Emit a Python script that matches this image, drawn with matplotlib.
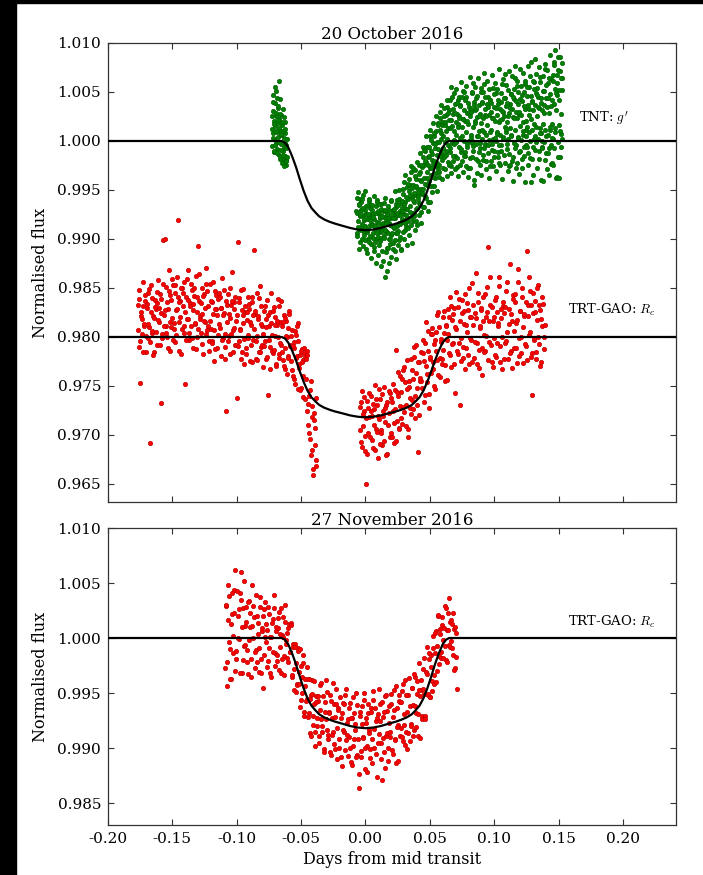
import matplotlib
matplotlib.use("Agg")
import matplotlib.pyplot as plt
from matplotlib.patches import Rectangle

plt.rcParams['font.family'] = ['DejaVu Serif']
plt.rcParams['mathtext.fontset'] = 'cm'
plt.rcParams['axes.unicode_minus'] = False

# ---- 20 October 2016, TNT g' (green) ----
tnt_pre_t = [-0.0728, -0.0725, -0.0722, -0.0719, -0.0716, -0.0713, -0.0710, -0.0707, -0.0704, -0.0701,
             -0.0698, -0.0695, -0.0692, -0.0689, -0.0686, -0.0683, -0.0680, -0.0677, -0.0674, -0.0671,
             -0.0668, -0.0665, -0.0662, -0.0659, -0.0656, -0.0653, -0.0650, -0.0647, -0.0644, -0.0641,
             -0.0638, -0.0635, -0.0632, -0.0629, -0.0626, -0.0623, -0.0620, -0.0617, -0.0614, -0.0611,
             -0.0726, -0.0722, -0.0718, -0.0714, -0.0710, -0.0706, -0.0702, -0.0698, -0.0694, -0.0690,
             -0.0686, -0.0682, -0.0678, -0.0674, -0.0670, -0.0666, -0.0662, -0.0658, -0.0654, -0.0650,
             -0.0646, -0.0642, -0.0638, -0.0634, -0.0630, -0.0626, -0.0622, -0.0618, -0.0614, -0.0610]
tnt_pre_f = [1.0012, 0.9995, 1.0031, 1.0008, 1.0047, 0.9989, 1.0020, 1.0002, 1.0039, 1.0015,
             0.9998, 1.0026, 1.0051, 1.0009, 0.9992, 1.0034, 1.0018, 1.0004, 1.0061, 1.0022,
             0.9986, 1.0011, 1.0043, 0.9997, 1.0027, 1.0006, 0.9983, 1.0016, 0.9990, 1.0033,
             0.9979, 1.0003, 0.9994, 1.0019, 0.9985, 1.0008, 0.9976, 0.9996, 0.9981, 1.0002,
             1.0025, 1.0003, 1.0040, 0.9990, 1.0017, 1.0055, 0.9996, 1.0029, 1.0010, 1.0044,
             0.9988, 1.0021, 1.0036, 0.9999, 1.0013, 0.9982, 1.0028, 1.0007, 0.9991, 1.0019,
             0.9978, 1.0010, 0.9986, 1.0024, 0.9974, 0.9998, 1.0012, 0.9980, 0.9993, 0.9984]

tnt_t = [-0.0070, -0.0066, -0.0062, -0.0058, -0.0054, -0.0050, -0.0046, -0.0042, -0.0038, -0.0034,
         -0.0030, -0.0026, -0.0022, -0.0018, -0.0014, -0.0010, -0.0006, -0.0002, 0.0002, 0.0006,
         0.0010, 0.0014, 0.0018, 0.0022, 0.0026, 0.0030, 0.0034, 0.0038, 0.0042, 0.0046,
         0.0050, 0.0054, 0.0058, 0.0062, 0.0066, 0.0070, 0.0074, 0.0078, 0.0082, 0.0086,
         0.0090, 0.0094, 0.0098, 0.0102, 0.0106, 0.0110, 0.0114, 0.0118, 0.0122, 0.0126,
         0.0130, 0.0134, 0.0138, 0.0142, 0.0146, 0.0150, 0.0154, 0.0158, 0.0162, 0.0166,
         0.0170, 0.0174, 0.0178, 0.0182, 0.0186, 0.0190, 0.0194, 0.0198, 0.0202, 0.0206,
         0.0210, 0.0214, 0.0218, 0.0222, 0.0226, 0.0230, 0.0234, 0.0238, 0.0242, 0.0246,
         0.0250, 0.0254, 0.0258, 0.0262, 0.0266, 0.0270, 0.0274, 0.0278, 0.0282, 0.0286,
         0.0290, 0.0294, 0.0298, 0.0302, 0.0306, 0.0310, 0.0314, 0.0318, 0.0322, 0.0326,
         0.0330, 0.0334, 0.0338, 0.0342, 0.0346, 0.0350, 0.0354, 0.0358, 0.0362, 0.0366,
         0.0370, 0.0374, 0.0378, 0.0382, 0.0386, 0.0390, 0.0394, 0.0398, 0.0402, 0.0406,
         0.0410, 0.0414, 0.0418, 0.0422, 0.0426, 0.0430, 0.0434, 0.0438, 0.0442, 0.0446,
         0.0450, 0.0454, 0.0458, 0.0462, 0.0466, 0.0470, 0.0474, 0.0478, 0.0482, 0.0486,
         0.0490, 0.0494, 0.0498, 0.0502, 0.0506, 0.0510, 0.0514, 0.0518, 0.0522, 0.0526,
         0.0530, 0.0534, 0.0538, 0.0542, 0.0546, 0.0550, 0.0554, 0.0558, 0.0562, 0.0566,
         0.0570, 0.0574, 0.0578, 0.0582, 0.0586, 0.0590, 0.0594, 0.0598, 0.0602, 0.0606,
         0.0610, 0.0614, 0.0618, 0.0622, 0.0626, 0.0630, 0.0634, 0.0638, 0.0642, 0.0646,
         0.0650, 0.0654, 0.0658, 0.0662, 0.0666, 0.0670, 0.0674, 0.0678, 0.0682, 0.0686,
         0.0690, 0.0694, 0.0698, 0.0702, 0.0706, 0.0710, 0.0714, 0.0718, 0.0722, 0.0726,
         0.0730, 0.0734, 0.0738, 0.0742, 0.0746, 0.0750, 0.0754, 0.0758, 0.0762, 0.0766,
         0.0770, 0.0774, 0.0778, 0.0782, 0.0786, 0.0790, 0.0794, 0.0798, 0.0802, 0.0806,
         0.0810, 0.0814, 0.0818, 0.0822, 0.0826, 0.0830, 0.0834, 0.0838, 0.0842, 0.0846,
         0.0850, 0.0854, 0.0858, 0.0862, 0.0866, 0.0870, 0.0874, 0.0878, 0.0882, 0.0886,
         0.0890, 0.0894, 0.0898, 0.0902, 0.0906, 0.0910, 0.0914, 0.0918, 0.0922, 0.0926,
         0.0930, 0.0934, 0.0938, 0.0942, 0.0946, 0.0950, 0.0954, 0.0958, 0.0962, 0.0966,
         0.0970, 0.0974, 0.0978, 0.0982, 0.0986, 0.0990, 0.0994, 0.0998, 0.1002, 0.1006,
         0.1010, 0.1014, 0.1018, 0.1022, 0.1026, 0.1030, 0.1034, 0.1038, 0.1042, 0.1046,
         0.1050, 0.1054, 0.1058, 0.1062, 0.1066, 0.1070, 0.1074, 0.1078, 0.1082, 0.1086,
         0.1090, 0.1094, 0.1098, 0.1102, 0.1106, 0.1110, 0.1114, 0.1118, 0.1122, 0.1126,
         0.1130, 0.1134, 0.1138, 0.1142, 0.1146, 0.1150, 0.1154, 0.1158, 0.1162, 0.1166,
         0.1170, 0.1174, 0.1178, 0.1182, 0.1186, 0.1190, 0.1194, 0.1198, 0.1202, 0.1206,
         0.1210, 0.1214, 0.1218, 0.1222, 0.1226, 0.1230, 0.1234, 0.1238, 0.1242, 0.1246,
         0.1250, 0.1254, 0.1258, 0.1262, 0.1266, 0.1270, 0.1274, 0.1278, 0.1282, 0.1286,
         0.1290, 0.1294, 0.1298, 0.1302, 0.1306, 0.1310, 0.1314, 0.1318, 0.1322, 0.1326,
         0.1330, 0.1334, 0.1338, 0.1342, 0.1346, 0.1350, 0.1354, 0.1358, 0.1362, 0.1366,
         0.1370, 0.1374, 0.1378, 0.1382, 0.1386, 0.1390, 0.1394, 0.1398, 0.1402, 0.1406,
         0.1410, 0.1414, 0.1418, 0.1422, 0.1426, 0.1430, 0.1434, 0.1438, 0.1442, 0.1446,
         0.1450, 0.1454, 0.1458, 0.1462, 0.1466, 0.1470, 0.1474, 0.1478, 0.1482, 0.1486,
         0.1490, 0.1494, 0.1498, 0.1502, 0.1506, 0.1510, 0.1514, 0.1518, 0.1522, 0.1526,
         0.1530]
tnt_f = [0.9929, 0.9906, 0.9942, 0.9918, 0.9910, 0.9935, 0.9923, 0.9897, 0.9930, 0.9938,
         0.9912, 0.9900, 0.9924, 0.9945, 0.9907, 0.9919, 0.9930, 0.9913, 0.9890, 0.9934,
         0.9920, 0.9907, 0.9935, 0.9900, 0.9923, 0.9939, 0.9914, 0.9903, 0.9926, 0.9895,
         0.9915, 0.9930, 0.9906, 0.9926, 0.9888, 0.9920, 0.9910, 0.9934, 0.9900, 0.9917,
         0.9940, 0.9902, 0.9911, 0.9925, 0.9894, 0.9921, 0.9907, 0.9936, 0.9901, 0.9914,
         0.9888, 0.9929, 0.9916, 0.9904, 0.9922, 0.9861, 0.9942, 0.9908, 0.9919, 0.9891,
         0.9926, 0.9906, 0.9934, 0.9900, 0.9916, 0.9895, 0.9921, 0.9939, 0.9904, 0.9913,
         0.9896, 0.9930, 0.9911, 0.9925, 0.9888, 0.9921, 0.9933, 0.9906, 0.9913, 0.9940,
         0.9908, 0.9924, 0.9941, 0.9899, 0.9929, 0.9915, 0.9937, 0.9890, 0.9932, 0.9920,
         0.9946, 0.9917, 0.9958, 0.9925, 0.9909, 0.9938, 0.9931, 0.9913, 0.9953, 0.9921,
         0.9941, 0.9911, 0.9949, 0.9934, 0.9955, 0.9922, 0.9968, 0.9927, 0.9943, 0.9918,
         0.9955, 0.9938, 0.9923, 0.9970, 0.9945, 0.9931, 0.9961, 0.9914, 0.9952, 0.9948,
         0.9944, 0.9976, 0.9937, 0.9960, 0.9968, 0.9951, 0.9928, 0.9973, 0.9946, 0.9984,
         0.9951, 0.9975, 0.9962, 0.9990, 0.9944, 0.9979, 0.9968, 0.9955, 0.9984, 0.9938,
         0.9985, 0.9959, 1.0005, 0.9972, 0.9990, 0.9965, 0.9981, 0.9954, 0.9998, 0.9977,
         0.9980, 1.0005, 0.9962, 0.9993, 1.0010, 0.9974, 0.9999, 0.9986, 1.0018, 0.9971,
         0.9999, 0.9975, 1.0011, 1.0023, 0.9989, 1.0002, 0.9981, 1.0016, 0.9986, 1.0005,
         0.9984, 1.0016, 0.9999, 1.0027, 0.9990, 1.0035, 1.0002, 0.9979, 1.0013, 1.0021,
         1.0032, 0.9989, 1.0013, 0.9974, 1.0021, 1.0045, 0.9998, 1.0028, 0.9980, 1.0010,
         0.9997, 1.0038, 0.9985, 1.0019, 1.0006, 1.0028, 0.9973, 1.0017, 1.0042, 0.9994,
         1.0026, 1.0003, 1.0037, 0.9989, 1.0014, 0.9980, 1.0022, 1.0051, 1.0000, 1.0032,
         0.9985, 1.0020, 1.0009, 1.0045, 0.9994, 1.0029, 0.9972, 1.0017, 1.0035, 1.0000,
         1.0025, 0.9983, 1.0033, 1.0006, 1.0049, 0.9998, 1.0014, 0.9990, 1.0040, 0.9955,
         1.0020, 1.0032, 0.9997, 1.0044, 1.0005, 1.0024, 0.9980, 1.0037, 1.0010, 1.0028,
         0.9993, 1.0018, 1.0050, 1.0002, 1.0040, 0.9986, 1.0023, 1.0009, 1.0058, 0.9997,
         1.0033, 1.0006, 0.9980, 1.0038, 1.0016, 0.9996, 1.0045, 1.0001, 1.0027, 0.9974,
         1.0042, 1.0011, 1.0030, 0.9991, 1.0023, 1.0054, 1.0002, 1.0035, 0.9984, 1.0020,
         1.0000, 1.0049, 1.0009, 1.0027, 0.9989, 1.0038, 1.0019, 0.9978, 1.0033, 1.0006,
         1.0040, 0.9996, 1.0022, 1.0058, 1.0004, 1.0030, 0.9986, 1.0025, 1.0014, 1.0044,
         1.0009, 1.0036, 0.9992, 1.0019, 1.0052, 1.0002, 1.0029, 0.9974, 1.0038, 1.0013,
         1.0048, 1.0006, 1.0033, 0.9984, 1.0024, 1.0043, 0.9998, 1.0064, 1.0011, 1.0030,
         0.9996, 1.0023, 1.0056, 1.0004, 1.0038, 0.9989, 1.0028, 1.0015, 1.0043, 1.0001,
         1.0027, 0.9982, 1.0041, 1.0019, 1.0006, 1.0050, 0.9994, 1.0033, 1.0061, 1.0011,
         1.0005, 1.0046, 1.0014, 1.0037, 0.9988, 1.0027, 1.0055, 1.0000, 1.0022, 0.9958,
         1.0041, 1.0011, 1.0032, 0.9994, 1.0060, 1.0017, 1.0037, 1.0005, 1.0049, 0.9999,
         1.0026, 1.0054, 1.0002, 1.0045, 0.9982, 1.0034, 1.0013, 1.0065, 1.0008, 1.0039,
         0.9994, 1.0032, 1.0051, 1.0017, 1.0037, 0.9999, 1.0073, 1.0011, 1.0044, 0.9988,
         1.0035, 1.0006, 1.0059, 0.9993, 1.0029, 1.0048, 1.0011, 1.0063, 0.9977, 1.0042,
         1.0017, 1.0067, 1.0002, 1.0038, 1.0081, 1.0009, 1.0053, 0.9962, 1.0032, 1.0047,
         1.0059, 0.9999, 1.0086, 1.0016, 1.0042, 0.9984, 1.0071, 1.0028, 1.0007, 1.0052,
         1.0064]

tnt_t2 = [-0.0068, -0.0064, -0.0060, -0.0056, -0.0052, -0.0048, -0.0044, -0.0040, -0.0036, -0.0032,
          -0.0028, -0.0024, -0.0020, -0.0016, -0.0012, -0.0008, -0.0004, 0.0000, 0.0004, 0.0008,
          0.0012, 0.0016, 0.0020, 0.0024, 0.0028, 0.0032, 0.0036, 0.0040, 0.0044, 0.0048,
          0.0052, 0.0056, 0.0060, 0.0064, 0.0068, 0.0072, 0.0076, 0.0080, 0.0084, 0.0088,
          0.0092, 0.0096, 0.0100, 0.0104, 0.0108, 0.0112, 0.0116, 0.0120, 0.0124, 0.0128,
          0.0132, 0.0136, 0.0140, 0.0144, 0.0148, 0.0152, 0.0156, 0.0160, 0.0164, 0.0168,
          0.0172, 0.0176, 0.0180, 0.0184, 0.0188, 0.0192, 0.0196, 0.0200, 0.0204, 0.0208,
          0.0212, 0.0216, 0.0220, 0.0224, 0.0228, 0.0232, 0.0236, 0.0240, 0.0244, 0.0248,
          0.0252, 0.0256, 0.0260, 0.0264, 0.0268, 0.0272, 0.0276, 0.0280, 0.0284, 0.0288,
          0.0292, 0.0296, 0.0300, 0.0304, 0.0308, 0.0312, 0.0316, 0.0320, 0.0324, 0.0328,
          0.0332, 0.0336, 0.0340, 0.0344, 0.0348, 0.0352, 0.0356, 0.0360, 0.0364, 0.0368,
          0.0372, 0.0376, 0.0380, 0.0384, 0.0388, 0.0392, 0.0396, 0.0400, 0.0404, 0.0408,
          0.0412, 0.0416, 0.0420, 0.0424, 0.0428, 0.0432, 0.0436, 0.0440, 0.0444, 0.0448,
          0.0452, 0.0456, 0.0460, 0.0464, 0.0468, 0.0472, 0.0476, 0.0480, 0.0484, 0.0488,
          0.0492, 0.0496, 0.0500, 0.0504, 0.0508, 0.0512, 0.0516, 0.0520, 0.0524, 0.0528,
          0.0532, 0.0536, 0.0540, 0.0544, 0.0548, 0.0552, 0.0556, 0.0560, 0.0564, 0.0568,
          0.0572, 0.0576, 0.0580, 0.0584, 0.0588, 0.0592, 0.0596, 0.0600, 0.0604, 0.0608,
          0.0612, 0.0616, 0.0620, 0.0624, 0.0628, 0.0632, 0.0636, 0.0640, 0.0644, 0.0648,
          0.0652, 0.0656, 0.0660, 0.0664, 0.0668, 0.0672, 0.0676, 0.0680, 0.0684, 0.0688,
          0.0692, 0.0696, 0.0700, 0.0704, 0.0708, 0.0712, 0.0716, 0.0720, 0.0724, 0.0728,
          0.0732, 0.0736, 0.0740, 0.0744, 0.0748, 0.0752, 0.0756, 0.0760, 0.0764, 0.0768,
          0.0772, 0.0776, 0.0780, 0.0784, 0.0788, 0.0792, 0.0796, 0.0800, 0.0804, 0.0808,
          0.0812, 0.0816, 0.0820, 0.0824, 0.0828, 0.0832, 0.0836, 0.0840, 0.0844, 0.0848,
          0.0852, 0.0856, 0.0860, 0.0864, 0.0868, 0.0872, 0.0876, 0.0880, 0.0884, 0.0888,
          0.0892, 0.0896, 0.0900, 0.0904, 0.0908, 0.0912, 0.0916, 0.0920, 0.0924, 0.0928,
          0.0932, 0.0936, 0.0940, 0.0944, 0.0948, 0.0952, 0.0956, 0.0960, 0.0964, 0.0968,
          0.0972, 0.0976, 0.0980, 0.0984, 0.0988, 0.0992, 0.0996, 0.1000, 0.1004, 0.1008,
          0.1012, 0.1016, 0.1020, 0.1024, 0.1028, 0.1032, 0.1036, 0.1040, 0.1044, 0.1048,
          0.1052, 0.1056, 0.1060, 0.1064, 0.1068, 0.1072, 0.1076, 0.1080, 0.1084, 0.1088,
          0.1092, 0.1096, 0.1100, 0.1104, 0.1108, 0.1112, 0.1116, 0.1120, 0.1124, 0.1128,
          0.1132, 0.1136, 0.1140, 0.1144, 0.1148, 0.1152, 0.1156, 0.1160, 0.1164, 0.1168,
          0.1172, 0.1176, 0.1180, 0.1184, 0.1188, 0.1192, 0.1196, 0.1200, 0.1204, 0.1208,
          0.1212, 0.1216, 0.1220, 0.1224, 0.1228, 0.1232, 0.1236, 0.1240, 0.1244, 0.1248,
          0.1252, 0.1256, 0.1260, 0.1264, 0.1268, 0.1272, 0.1276, 0.1280, 0.1284, 0.1288,
          0.1292, 0.1296, 0.1300, 0.1304, 0.1308, 0.1312, 0.1316, 0.1320, 0.1324, 0.1328,
          0.1332, 0.1336, 0.1340, 0.1344, 0.1348, 0.1352, 0.1356, 0.1360, 0.1364, 0.1368,
          0.1372, 0.1376, 0.1380, 0.1384, 0.1388, 0.1392, 0.1396, 0.1400, 0.1404, 0.1408,
          0.1412, 0.1416, 0.1420, 0.1424, 0.1428, 0.1432, 0.1436, 0.1440, 0.1444, 0.1448,
          0.1452, 0.1456, 0.1460, 0.1464, 0.1468, 0.1472, 0.1476, 0.1480, 0.1484, 0.1488,
          0.1492, 0.1496, 0.1500, 0.1504, 0.1508, 0.1512, 0.1516, 0.1520, 0.1524, 0.1528]
tnt_f2 = [0.9903, 0.9927, 0.9948, 0.9912, 0.9936, 0.9890, 0.9924, 0.9941, 0.9909, 0.9930,
          0.9941, 0.9915, 0.9893, 0.9932, 0.9920, 0.9904, 0.9949, 0.9899, 0.9926, 0.9909,
          0.9886, 0.9926, 0.9910, 0.9941, 0.9897, 0.9919, 0.9932, 0.9881, 0.9935, 0.9914,
          0.9935, 0.9901, 0.9922, 0.9892, 0.9944, 0.9913, 0.9897, 0.9927, 0.9876, 0.9938,
          0.9906, 0.9929, 0.9884, 0.9916, 0.9936, 0.9898, 0.9922, 0.9872, 0.9931, 0.9909,
          0.9923, 0.9878, 0.9937, 0.9901, 0.9909, 0.9930, 0.9887, 0.9916, 0.9867, 0.9926,
          0.9891, 0.9921, 0.9875, 0.9930, 0.9914, 0.9900, 0.9940, 0.9882, 0.9925, 0.9906,
          0.9921, 0.9890, 0.9931, 0.9912, 0.9949, 0.9899, 0.9880, 0.9936, 0.9906, 0.9927,
          0.9894, 0.9935, 0.9916, 0.9950, 0.9902, 0.9924, 0.9889, 0.9939, 0.9929, 0.9907,
          0.9951, 0.9900, 0.9935, 0.9916, 0.9965, 0.9924, 0.9943, 0.9894, 0.9931, 0.9956,
          0.9918, 0.9961, 0.9904, 0.9945, 0.9928, 0.9974, 0.9914, 0.9952, 0.9896, 0.9940,
          0.9972, 0.9927, 0.9947, 0.9909, 0.9964, 0.9918, 0.9954, 0.9979, 0.9932, 0.9941,
          0.9924, 0.9966, 0.9988, 0.9936, 0.9959, 0.9916, 0.9976, 0.9947, 0.9994, 0.9933,
          0.9991, 0.9933, 0.9980, 0.9956, 1.0005, 0.9942, 0.9962, 0.9994, 0.9929, 0.9976,
          0.9954, 0.9994, 0.9938, 1.0011, 0.9972, 1.0001, 0.9948, 0.9987, 1.0018, 0.9963,
          1.0008, 0.9954, 0.9997, 0.9967, 1.0025, 0.9978, 0.9949, 1.0016, 0.9992, 0.9963,
          0.9968, 1.0030, 0.9985, 1.0008, 1.0037, 0.9961, 1.0019, 0.9993, 0.9972, 1.0026,
          1.0034, 0.9971, 1.0019, 0.9986, 1.0010, 0.9964, 1.0042, 0.9996, 1.0029, 0.9976,
          0.9977, 1.0042, 0.9993, 1.0055, 0.9967, 1.0015, 1.0033, 0.9985, 1.0049, 1.0001,
          1.0029, 0.9971, 1.0053, 0.9999, 1.0039, 0.9983, 1.0014, 0.9964, 1.0045, 1.0023,
          0.9976, 1.0036, 0.9992, 1.0060, 1.0005, 1.0045, 0.9968, 1.0022, 0.9985, 1.0050,
          1.0042, 0.9989, 1.0056, 0.9974, 1.0020, 0.9997, 1.0039, 0.9963, 1.0030, 1.0065,
          0.9972, 1.0030, 1.0003, 1.0050, 0.9984, 1.0059, 0.9995, 1.0037, 0.9960, 1.0018,
          1.0055, 0.9982, 1.0033, 0.9967, 1.0046, 1.0005, 1.0064, 0.9989, 1.0025, 0.9975,
          0.9998, 1.0054, 0.9965, 1.0039, 1.0011, 1.0050, 0.9981, 1.0069, 0.9993, 1.0027,
          1.0045, 0.9971, 1.0026, 1.0061, 0.9988, 1.0035, 0.9962, 1.0053, 1.0009, 1.0042,
          0.9980, 1.0039, 0.9997, 1.0067, 0.9974, 1.0023, 1.0048, 0.9990, 1.0059, 1.0003,
          1.0034, 0.9969, 1.0053, 1.0007, 1.0042, 0.9984, 1.0073, 0.9996, 1.0021, 0.9976,
          0.9990, 1.0049, 0.9961, 1.0031, 1.0063, 1.0002, 1.0044, 0.9978, 1.0068, 1.0012,
          1.0057, 0.9997, 1.0039, 0.9969, 1.0026, 1.0071, 0.9987, 1.0034, 0.9975, 1.0048,
          1.0005, 1.0066, 0.9980, 1.0045, 0.9959, 1.0023, 1.0053, 0.9993, 1.0077, 0.9972,
          1.0041, 0.9978, 1.0061, 1.0003, 1.0050, 0.9966, 1.0030, 1.0073, 0.9990, 1.0056,
          0.9972, 1.0047, 1.0010, 1.0069, 0.9985, 1.0036, 0.9958, 1.0058, 1.0020, 0.9996,
          1.0055, 0.9994, 1.0077, 0.9975, 1.0033, 1.0009, 1.0066, 0.9983, 1.0046, 1.0081,
          0.9982, 1.0040, 0.9965, 1.0061, 1.0002, 1.0053, 0.9991, 1.0084, 1.0014, 1.0068,
          1.0047, 0.9972, 1.0035, 0.9990, 1.0076, 1.0008, 1.0060, 0.9960, 1.0044, 1.0000,
          0.9993, 1.0066, 0.9959, 1.0051, 1.0029, 0.9981, 1.0079, 1.0005, 1.0057, 0.9971,
          1.0072, 0.9988, 1.0044, 0.9965, 1.0064, 1.0014, 1.0088, 0.9996, 1.0036, 0.9978,
          1.0003, 1.0061, 0.9975, 1.0078, 0.9993, 1.0093, 1.0013, 1.0049, 0.9963, 1.0067,
          1.0072, 0.9984, 1.0052, 0.9962, 1.0086, 1.0010, 1.0064, 0.9994, 1.0080, 1.0002]

# ---- 20 October 2016, TRT-GAO Rc (red, plotted with offset at 0.980) ----
trt1_t = [-0.1770, -0.1763, -0.1756, -0.1749, -0.1742, -0.1735, -0.1728, -0.1721, -0.1714, -0.1707,
          -0.1700, -0.1693, -0.1686, -0.1679, -0.1672, -0.1665, -0.1658, -0.1651, -0.1644, -0.1637,
          -0.1630, -0.1623, -0.1616, -0.1609, -0.1602, -0.1595, -0.1588, -0.1581, -0.1574, -0.1567,
          -0.1560, -0.1553, -0.1546, -0.1539, -0.1532, -0.1525, -0.1518, -0.1511, -0.1504, -0.1497,
          -0.1490, -0.1483, -0.1476, -0.1469, -0.1462, -0.1455, -0.1448, -0.1441, -0.1434, -0.1427,
          -0.1420, -0.1413, -0.1406, -0.1399, -0.1392, -0.1385, -0.1378, -0.1371, -0.1364, -0.1357,
          -0.1350, -0.1343, -0.1336, -0.1329, -0.1322, -0.1315, -0.1308, -0.1301, -0.1294, -0.1287,
          -0.1280, -0.1273, -0.1266, -0.1259, -0.1252, -0.1245, -0.1238, -0.1231, -0.1224, -0.1217,
          -0.1210, -0.1203, -0.1196, -0.1189, -0.1182, -0.1175, -0.1168, -0.1161, -0.1154, -0.1147,
          -0.1140, -0.1133, -0.1126, -0.1119, -0.1112, -0.1105, -0.1098, -0.1091, -0.1084, -0.1077,
          -0.1070, -0.1063, -0.1056, -0.1049, -0.1042, -0.1035, -0.1028, -0.1021, -0.1014, -0.1007,
          -0.1000, -0.0993, -0.0986, -0.0979, -0.0972, -0.0965, -0.0958, -0.0951, -0.0944, -0.0937,
          -0.0930, -0.0923, -0.0916, -0.0909, -0.0902, -0.0895, -0.0888, -0.0881, -0.0874, -0.0867,
          -0.0860, -0.0853, -0.0846, -0.0839, -0.0832, -0.0825, -0.0818, -0.0811, -0.0804, -0.0797,
          -0.0790, -0.0783, -0.0776, -0.0769, -0.0762, -0.0755, -0.0748, -0.0741, -0.0734, -0.0727,
          -0.0720, -0.0713, -0.0706, -0.0699, -0.0692, -0.0685, -0.0678, -0.0671, -0.0664, -0.0657,
          -0.0650, -0.0643, -0.0636, -0.0629, -0.0622, -0.0615, -0.0608, -0.0601, -0.0594, -0.0587,
          -0.0580, -0.0573, -0.0566, -0.0559, -0.0552, -0.0545, -0.0538, -0.0531, -0.0524, -0.0517,
          -0.0510, -0.0503, -0.0496, -0.0489, -0.0482, -0.0475, -0.0468, -0.0461, -0.0454, -0.0447,
          -0.0440, -0.0433, -0.0426, -0.0419, -0.0412, -0.0405, -0.0398, -0.0391, -0.0384,
          -0.0045, -0.0037, -0.0029, -0.0021, -0.0013, -0.0005, 0.0003, 0.0011, 0.0019, 0.0027,
          0.0035, 0.0043, 0.0051, 0.0059, 0.0067, 0.0075, 0.0083, 0.0091, 0.0099, 0.0107,
          0.0115, 0.0123, 0.0131, 0.0139, 0.0147, 0.0155, 0.0163, 0.0171, 0.0179, 0.0187,
          0.0195, 0.0203, 0.0211, 0.0219, 0.0227, 0.0235, 0.0243, 0.0251, 0.0259, 0.0267,
          0.0275, 0.0283, 0.0291, 0.0299, 0.0307, 0.0315, 0.0323, 0.0331, 0.0339, 0.0347,
          0.0355, 0.0363, 0.0371, 0.0379, 0.0387, 0.0395, 0.0403, 0.0411, 0.0419, 0.0427,
          0.0435, 0.0443, 0.0451, 0.0459, 0.0467, 0.0475, 0.0483, 0.0491, 0.0499, 0.0507,
          0.0515, 0.0523, 0.0531, 0.0539, 0.0547, 0.0555, 0.0563, 0.0571, 0.0579, 0.0587,
          0.0595, 0.0603, 0.0611, 0.0619, 0.0627, 0.0635, 0.0643, 0.0651, 0.0659, 0.0667,
          0.0675, 0.0683, 0.0691, 0.0699, 0.0707, 0.0715, 0.0723, 0.0731, 0.0739, 0.0747,
          0.0755, 0.0763, 0.0771, 0.0779, 0.0787, 0.0795, 0.0803, 0.0811, 0.0819, 0.0827,
          0.0835, 0.0843, 0.0851, 0.0859, 0.0867, 0.0875, 0.0883, 0.0891, 0.0899, 0.0907,
          0.0915, 0.0923, 0.0931, 0.0939, 0.0947, 0.0955, 0.0963, 0.0971, 0.0979, 0.0987,
          0.0995, 0.1003, 0.1011, 0.1019, 0.1027, 0.1035, 0.1043, 0.1051, 0.1059, 0.1067,
          0.1075, 0.1083, 0.1091, 0.1099, 0.1107, 0.1115, 0.1123, 0.1131, 0.1139, 0.1147,
          0.1155, 0.1163, 0.1171, 0.1179, 0.1187, 0.1195, 0.1203, 0.1211, 0.1219, 0.1227,
          0.1235, 0.1243, 0.1251, 0.1259, 0.1267, 0.1275, 0.1283, 0.1291, 0.1299, 0.1307,
          0.1315, 0.1323, 0.1331, 0.1339, 0.1347, 0.1355, 0.1363, 0.1371, 0.1379, 0.1387]
trt1_f = [0.9833, 0.9790, 0.9848, 0.9753, 0.9821, 0.9803, 0.9856, 0.9811, 0.9837, 0.9785,
          0.9830, 0.9799, 0.9845, 0.9810, 0.9692, 0.9853, 0.9804, 0.9821, 0.9785, 0.9838,
          0.9829, 0.9792, 0.9835, 0.9858, 0.9815, 0.9844, 0.9733, 0.9803, 0.9899, 0.9822,
          0.9900, 0.9811, 0.9851, 0.9800, 0.9829, 0.9868, 0.9786, 0.9838, 0.9819, 0.9853,
          0.9808, 0.9845, 0.9795, 0.9828, 0.9861, 0.9919, 0.9815, 0.9837, 0.9783, 0.9850,
          0.9832, 0.9804, 0.9856, 0.9752, 0.9841, 0.9818, 0.9868, 0.9797, 0.9835, 0.9811,
          0.9848, 0.9789, 0.9828, 0.9842, 0.9813, 0.9862, 0.9800, 0.9893, 0.9837, 0.9821,
          0.9804, 0.9850, 0.9823, 0.9783, 0.9844, 0.9815, 0.9870, 0.9807, 0.9832, 0.9796,
          0.9854, 0.9808, 0.9836, 0.9796, 0.9823, 0.9775, 0.9847, 0.9829, 0.9789, 0.9839,
          0.9813, 0.9841, 0.9781, 0.9830, 0.9860, 0.9799, 0.9824, 0.9790, 0.9724, 0.9833,
          0.9844, 0.9801, 0.9819, 0.9783, 0.9833, 0.9866, 0.9807, 0.9836, 0.9792, 0.9816,
          0.9738, 0.9897, 0.9796, 0.9836, 0.9808, 0.9848, 0.9785, 0.9822, 0.9772, 0.9826,
          0.9789, 0.9817, 0.9841, 0.9799, 0.9829, 0.9775, 0.9812, 0.9836, 0.9797, 0.9889,
          0.9823, 0.9778, 0.9845, 0.9801, 0.9818, 0.9785, 0.9852, 0.9790, 0.9811, 0.9769,
          0.9827, 0.9796, 0.9818, 0.9778, 0.9838, 0.9741, 0.9811, 0.9790, 0.9845, 0.9802,
          0.9784, 0.9831, 0.9801, 0.9820, 0.9770, 0.9812, 0.9839, 0.9779, 0.9815, 0.9792,
          0.9811, 0.9776, 0.9822, 0.9789, 0.9767, 0.9816, 0.9800, 0.9781, 0.9827, 0.9792,
          0.9775, 0.9807, 0.9760, 0.9795, 0.9789, 0.9752, 0.9802, 0.9781, 0.9814, 0.9768,
          0.9782, 0.9748, 0.9788, 0.9777, 0.9739, 0.9784, 0.9780, 0.9757, 0.9786, 0.9732,
          0.9740, 0.9696, 0.9755, 0.9685, 0.9718, 0.9659, 0.9722, 0.9707, 0.9668,
          0.9729, 0.9693, 0.9745, 0.9709, 0.9724, 0.9684, 0.9650, 0.9735, 0.9702, 0.9718,
          0.9698, 0.9740, 0.9719, 0.9687, 0.9726, 0.9751, 0.9706, 0.9731, 0.9677, 0.9716,
          0.9737, 0.9705, 0.9690, 0.9724, 0.9749, 0.9713, 0.9731, 0.9681, 0.9722, 0.9743,
          0.9702, 0.9734, 0.9724, 0.9692, 0.9746, 0.9787, 0.9714, 0.9740, 0.9707, 0.9760,
          0.9744, 0.9711, 0.9766, 0.9723, 0.9754, 0.9731, 0.9777, 0.9706, 0.9749, 0.9728,
          0.9778, 0.9736, 0.9757, 0.9790, 0.9717, 0.9763, 0.9731, 0.9683, 0.9774, 0.9755,
          0.9755, 0.9797, 0.9775, 0.9741, 0.9815, 0.9762, 0.9786, 0.9728, 0.9778, 0.9803,
          0.9803, 0.9774, 0.9750, 0.9797, 0.9786, 0.9822, 0.9761, 0.9810, 0.9779, 0.9795,
          0.9778, 0.9820, 0.9804, 0.9755, 0.9812, 0.9797, 0.9829, 0.9784, 0.9841, 0.9769,
          0.9817, 0.9794, 0.9830, 0.9743, 0.9808, 0.9783, 0.9839, 0.9731, 0.9799, 0.9824,
          0.9779, 0.9813, 0.9844, 0.9789, 0.9805, 0.9828, 0.9772, 0.9820, 0.9797, 0.9855,
          0.9812, 0.9779, 0.9824, 0.9865, 0.9794, 0.9836, 0.9768, 0.9809, 0.9828, 0.9789,
          0.9841, 0.9802, 0.9786, 0.9820, 0.9851, 0.9892, 0.9795, 0.9833, 0.9774, 0.9816,
          0.9799, 0.9838, 0.9780, 0.9826, 0.9811, 0.9861, 0.9791, 0.9819, 0.9767, 0.9832,
          0.9824, 0.9794, 0.9847, 0.9805, 0.9778, 0.9829, 0.9874, 0.9786, 0.9816, 0.9843,
          0.9789, 0.9836, 0.9814, 0.9773, 0.9856, 0.9799, 0.9827, 0.9784, 0.9841, 0.9810,
          0.9821, 0.9791, 0.9888, 0.9833, 0.9802, 0.9847, 0.9780, 0.9741, 0.9824, 0.9797,
          0.9837, 0.9785, 0.9817, 0.9853, 0.9793, 0.9828, 0.9774, 0.9811, 0.9834, 0.9800]

trt1_t2 = [-0.1767, -0.1760, -0.1753, -0.1746, -0.1739, -0.1732, -0.1725, -0.1718, -0.1711, -0.1704,
           -0.1697, -0.1690, -0.1683, -0.1676, -0.1669, -0.1662, -0.1655, -0.1648, -0.1641, -0.1634,
           -0.1627, -0.1620, -0.1613, -0.1606, -0.1599, -0.1592, -0.1585, -0.1578, -0.1571, -0.1564,
           -0.1557, -0.1550, -0.1543, -0.1536, -0.1529, -0.1522, -0.1515, -0.1508, -0.1501, -0.1494,
           -0.1487, -0.1480, -0.1473, -0.1466, -0.1459, -0.1452, -0.1445, -0.1438, -0.1431, -0.1424,
           -0.1417, -0.1410, -0.1403, -0.1396, -0.1389, -0.1382, -0.1375, -0.1368, -0.1361, -0.1354,
           -0.1347, -0.1340, -0.1333, -0.1326, -0.1319, -0.1312, -0.1305, -0.1298, -0.1291, -0.1284,
           -0.1277, -0.1270, -0.1263, -0.1256, -0.1249, -0.1242, -0.1235, -0.1228, -0.1221, -0.1214,
           -0.1207, -0.1200, -0.1193, -0.1186, -0.1179, -0.1172, -0.1165, -0.1158, -0.1151, -0.1144,
           -0.1137, -0.1130, -0.1123, -0.1116, -0.1109, -0.1102, -0.1095, -0.1088, -0.1081, -0.1074,
           -0.1067, -0.1060, -0.1053, -0.1046, -0.1039, -0.1032, -0.1025, -0.1018, -0.1011, -0.1004,
           -0.0997, -0.0990, -0.0983, -0.0976, -0.0969, -0.0962, -0.0955, -0.0948, -0.0941, -0.0934,
           -0.0927, -0.0920, -0.0913, -0.0906, -0.0899, -0.0892, -0.0885, -0.0878, -0.0871, -0.0864,
           -0.0857, -0.0850, -0.0843, -0.0836, -0.0829, -0.0822, -0.0815, -0.0808, -0.0801, -0.0794,
           -0.0787, -0.0780, -0.0773, -0.0766, -0.0759, -0.0752, -0.0745, -0.0738, -0.0731, -0.0724,
           -0.0717, -0.0710, -0.0703, -0.0696, -0.0689, -0.0682, -0.0675, -0.0668, -0.0661, -0.0654,
           -0.0647, -0.0640, -0.0633, -0.0626, -0.0619, -0.0612, -0.0605, -0.0598, -0.0591, -0.0584,
           -0.0577, -0.0570, -0.0563, -0.0556, -0.0549, -0.0542, -0.0535, -0.0528, -0.0521, -0.0514,
           -0.0507, -0.0500, -0.0493, -0.0486, -0.0479, -0.0472, -0.0465, -0.0458, -0.0451, -0.0444,
           -0.0437, -0.0430, -0.0423, -0.0416, -0.0409, -0.0402, -0.0395, -0.0388, -0.0381,
           -0.0041, -0.0033, -0.0025, -0.0017, -0.0009, -0.0001, 0.0007, 0.0015, 0.0023, 0.0031,
           0.0039, 0.0047, 0.0055, 0.0063, 0.0071, 0.0079, 0.0087, 0.0095, 0.0103, 0.0111,
           0.0119, 0.0127, 0.0135, 0.0143, 0.0151, 0.0159, 0.0167, 0.0175, 0.0183, 0.0191,
           0.0199, 0.0207, 0.0215, 0.0223, 0.0231, 0.0239, 0.0247, 0.0255, 0.0263, 0.0271,
           0.0279, 0.0287, 0.0295, 0.0303, 0.0311, 0.0319, 0.0327, 0.0335, 0.0343, 0.0351,
           0.0359, 0.0367, 0.0375, 0.0383, 0.0391, 0.0399, 0.0407, 0.0415, 0.0423, 0.0431,
           0.0439, 0.0447, 0.0455, 0.0463, 0.0471, 0.0479, 0.0487, 0.0495, 0.0503, 0.0511,
           0.0519, 0.0527, 0.0535, 0.0543, 0.0551, 0.0559, 0.0567, 0.0575, 0.0583, 0.0591,
           0.0599, 0.0607, 0.0615, 0.0623, 0.0631, 0.0639, 0.0647, 0.0655, 0.0663, 0.0671,
           0.0679, 0.0687, 0.0695, 0.0703, 0.0711, 0.0719, 0.0727, 0.0735, 0.0743, 0.0751,
           0.0759, 0.0767, 0.0775, 0.0783, 0.0791, 0.0799, 0.0807, 0.0815, 0.0823, 0.0831,
           0.0839, 0.0847, 0.0855, 0.0863, 0.0871, 0.0879, 0.0887, 0.0895, 0.0903, 0.0911,
           0.0919, 0.0927, 0.0935, 0.0943, 0.0951, 0.0959, 0.0967, 0.0975, 0.0983, 0.0991,
           0.0999, 0.1007, 0.1015, 0.1023, 0.1031, 0.1039, 0.1047, 0.1055, 0.1063, 0.1071,
           0.1079, 0.1087, 0.1095, 0.1103, 0.1111, 0.1119, 0.1127, 0.1135, 0.1143, 0.1151,
           0.1159, 0.1167, 0.1175, 0.1183, 0.1191, 0.1199, 0.1207, 0.1215, 0.1223, 0.1231,
           0.1239, 0.1247, 0.1255, 0.1263, 0.1271, 0.1279, 0.1287, 0.1295, 0.1303, 0.1311,
           0.1319, 0.1327, 0.1335, 0.1343, 0.1351, 0.1359, 0.1367, 0.1375, 0.1383, 0.1391]
trt1_f2 = [0.9807, 0.9839, 0.9796, 0.9826, 0.9818, 0.9785, 0.9832, 0.9813, 0.9843, 0.9801,
           0.9834, 0.9813, 0.9849, 0.9795, 0.9825, 0.9806, 0.9840, 0.9782, 0.9819, 0.9831,
           0.9805, 0.9846, 0.9817, 0.9830, 0.9792, 0.9839, 0.9824, 0.9799, 0.9854, 0.9811,
           0.9828, 0.9804, 0.9836, 0.9789, 0.9847, 0.9815, 0.9843, 0.9810, 0.9859, 0.9797,
           0.9814, 0.9853, 0.9802, 0.9829, 0.9841, 0.9786, 0.9836, 0.9820, 0.9850, 0.9808,
           0.9845, 0.9811, 0.9826, 0.9797, 0.9859, 0.9818, 0.9838, 0.9804, 0.9832, 0.9854,
           0.9799, 0.9834, 0.9850, 0.9814, 0.9788, 0.9841, 0.9826, 0.9808, 0.9864, 0.9818,
           0.9835, 0.9793, 0.9842, 0.9816, 0.9830, 0.9854, 0.9803, 0.9847, 0.9811, 0.9786,
           0.9816, 0.9837, 0.9794, 0.9856, 0.9807, 0.9829, 0.9788, 0.9843, 0.9822, 0.9802,
           0.9845, 0.9809, 0.9830, 0.9797, 0.9822, 0.9848, 0.9803, 0.9778, 0.9837, 0.9815,
           0.9796, 0.9823, 0.9850, 0.9803, 0.9837, 0.9785, 0.9829, 0.9809, 0.9841, 0.9792,
           0.9822, 0.9791, 0.9840, 0.9807, 0.9778, 0.9828, 0.9814, 0.9849, 0.9798, 0.9832,
           0.9783, 0.9825, 0.9802, 0.9834, 0.9815, 0.9792, 0.9841, 0.9774, 0.9822, 0.9808,
           0.9827, 0.9796, 0.9777, 0.9821, 0.9840, 0.9785, 0.9813, 0.9832, 0.9792, 0.9803,
           0.9791, 0.9832, 0.9810, 0.9780, 0.9822, 0.9797, 0.9767, 0.9826, 0.9814, 0.9786,
           0.9827, 0.9787, 0.9812, 0.9772, 0.9816, 0.9800, 0.9832, 0.9783, 0.9794, 0.9837,
           0.9785, 0.9815, 0.9770, 0.9819, 0.9801, 0.9762, 0.9809, 0.9779, 0.9823, 0.9791,
           0.9801, 0.9766, 0.9791, 0.9757, 0.9806, 0.9779, 0.9811, 0.9747, 0.9796, 0.9772,
           0.9746, 0.9786, 0.9774, 0.9760, 0.9789, 0.9737, 0.9778, 0.9724, 0.9782, 0.9710,
           0.9702, 0.9746, 0.9680, 0.9730, 0.9665, 0.9715, 0.9690, 0.9738, 0.9674,
           0.9705, 0.9734, 0.9688, 0.9721, 0.9739, 0.9699, 0.9717, 0.9681, 0.9728, 0.9743,
           0.9724, 0.9695, 0.9732, 0.9710, 0.9685, 0.9737, 0.9703, 0.9719, 0.9747, 0.9691,
           0.9702, 0.9742, 0.9719, 0.9694, 0.9728, 0.9680, 0.9734, 0.9710, 0.9745, 0.9698,
           0.9738, 0.9698, 0.9752, 0.9712, 0.9726, 0.9694, 0.9744, 0.9764, 0.9706, 0.9730,
           0.9717, 0.9757, 0.9729, 0.9769, 0.9709, 0.9747, 0.9698, 0.9755, 0.9738, 0.9721,
           0.9766, 0.9726, 0.9780, 0.9740, 0.9792, 0.9748, 0.9774, 0.9720, 0.9758, 0.9785,
           0.9748, 0.9784, 0.9734, 0.9794, 0.9770, 0.9754, 0.9806, 0.9742, 0.9780, 0.9763,
           0.9809, 0.9767, 0.9793, 0.9747, 0.9805, 0.9777, 0.9826, 0.9759, 0.9798, 0.9772,
           0.9787, 0.9827, 0.9771, 0.9811, 0.9756, 0.9803, 0.9820, 0.9782, 0.9832, 0.9793,
           0.9823, 0.9772, 0.9810, 0.9846, 0.9786, 0.9831, 0.9794, 0.9816, 0.9775, 0.9838,
           0.9790, 0.9827, 0.9767, 0.9812, 0.9835, 0.9782, 0.9850, 0.9799, 0.9820, 0.9774,
           0.9833, 0.9795, 0.9819, 0.9772, 0.9845, 0.9787, 0.9811, 0.9830, 0.9761, 0.9816,
           0.9785, 0.9844, 0.9801, 0.9825, 0.9777, 0.9816, 0.9861, 0.9792, 0.9831, 0.9769,
           0.9820, 0.9782, 0.9841, 0.9794, 0.9814, 0.9852, 0.9774, 0.9829, 0.9800, 0.9836,
           0.9778, 0.9831, 0.9796, 0.9856, 0.9813, 0.9784, 0.9823, 0.9768, 0.9839, 0.9806,
           0.9844, 0.9789, 0.9817, 0.9869, 0.9781, 0.9827, 0.9800, 0.9850, 0.9773, 0.9823,
           0.9793, 0.9836, 0.9776, 0.9821, 0.9861, 0.9805, 0.9833, 0.9784, 0.9845, 0.9799,
           0.9826, 0.9778, 0.9850, 0.9800, 0.9833, 0.9770, 0.9818, 0.9841, 0.9788, 0.9812]

# ---- 27 November 2016, TRT-GAO Rc (red) ----
trt2_t = [-0.1090, -0.1082, -0.1074, -0.1066, -0.1058, -0.1050, -0.1042, -0.1034, -0.1026, -0.1018,
          -0.1010, -0.1002, -0.0994, -0.0986, -0.0978, -0.0970, -0.0962, -0.0954, -0.0946, -0.0938,
          -0.0930, -0.0922, -0.0914, -0.0906, -0.0898, -0.0890, -0.0882, -0.0874, -0.0866, -0.0858,
          -0.0850, -0.0842, -0.0834, -0.0826, -0.0818, -0.0810, -0.0802, -0.0794, -0.0786, -0.0778,
          -0.0770, -0.0762, -0.0754, -0.0746, -0.0738, -0.0730, -0.0722, -0.0714, -0.0706, -0.0698,
          -0.0690, -0.0682, -0.0674, -0.0666, -0.0658, -0.0650, -0.0642, -0.0634, -0.0626, -0.0618,
          -0.0610, -0.0602, -0.0594, -0.0586, -0.0578, -0.0570, -0.0562, -0.0554, -0.0546, -0.0538,
          -0.0530, -0.0522, -0.0514, -0.0506, -0.0498, -0.0490, -0.0482, -0.0474, -0.0466, -0.0458,
          -0.0450, -0.0442, -0.0434, -0.0426, -0.0418, -0.0410, -0.0402, -0.0394, -0.0386, -0.0378,
          -0.0370, -0.0362, -0.0354, -0.0346, -0.0338, -0.0330, -0.0322, -0.0314, -0.0306, -0.0298,
          -0.0290, -0.0282, -0.0274, -0.0266, -0.0258, -0.0250, -0.0242, -0.0234, -0.0226, -0.0218,
          -0.0210, -0.0202, -0.0194, -0.0186, -0.0178, -0.0170, -0.0162, -0.0154, -0.0146, -0.0138,
          -0.0130, -0.0122, -0.0114, -0.0106, -0.0098, -0.0090, -0.0082, -0.0074, -0.0066, -0.0058,
          -0.0050, -0.0042, -0.0034, -0.0026, -0.0018, -0.0010, -0.0002, 0.0006, 0.0014, 0.0022,
          0.0030, 0.0038, 0.0046, 0.0054, 0.0062, 0.0070, 0.0078, 0.0086, 0.0094, 0.0102,
          0.0110, 0.0118, 0.0126, 0.0134, 0.0142, 0.0150, 0.0158, 0.0166, 0.0174, 0.0182,
          0.0190, 0.0198, 0.0206, 0.0214, 0.0222, 0.0230, 0.0238, 0.0246, 0.0254, 0.0262,
          0.0270, 0.0278, 0.0286, 0.0294, 0.0302, 0.0310, 0.0318, 0.0326, 0.0334, 0.0342,
          0.0350, 0.0358, 0.0366, 0.0374, 0.0382, 0.0390, 0.0398, 0.0406, 0.0414, 0.0422,
          0.0430, 0.0438, 0.0446, 0.0454, 0.0462, 0.0470, 0.0478, 0.0486, 0.0494, 0.0502,
          0.0510, 0.0518, 0.0526, 0.0534, 0.0542, 0.0550, 0.0558, 0.0566, 0.0574, 0.0582,
          0.0590, 0.0598, 0.0606, 0.0614, 0.0622, 0.0630, 0.0638, 0.0646, 0.0654, 0.0662,
          0.0670, 0.0678, 0.0686, 0.0694, 0.0702, 0.0710]
trt2_f = [0.9973, 1.0029, 0.9956, 1.0016, 1.0038, 0.9990, 0.9963, 1.0022, 1.0002, 1.0044,
          1.0062, 0.9981, 1.0020, 0.9999, 1.0041, 1.0060, 0.9968, 1.0027, 0.9993, 1.0011,
          1.0028, 0.9989, 0.9967, 1.0034, 1.0010, 0.9981, 1.0048, 1.0000, 1.0019, 0.9973,
          0.9989, 1.0020, 1.0004, 0.9969, 1.0037, 0.9981, 1.0009, 0.9955, 1.0026, 1.0001,
          1.0013, 0.9974, 1.0028, 0.9991, 1.0001, 0.9965, 1.0017, 1.0039, 0.9986, 1.0006,
          0.9979, 1.0009, 1.0024, 0.9992, 0.9968, 1.0003, 1.0019, 0.9984, 1.0030, 0.9995,
          1.0005, 0.9978, 1.0013, 0.9987, 1.0014, 0.9965, 0.9995, 0.9972, 0.9995, 0.9951,
          0.9958, 0.9991, 0.9969, 0.9937, 0.9975, 0.9950, 0.9985, 0.9933, 0.9956, 0.9945,
          0.9963, 0.9932, 0.9914, 0.9948, 0.9962, 0.9921, 0.9940, 0.9902, 0.9947, 0.9927,
          0.9943, 0.9911, 0.9957, 0.9926, 0.9915, 0.9947, 0.9899, 0.9933, 0.9962, 0.9916,
          0.9908, 0.9933, 0.9948, 0.9894, 0.9927, 0.9915, 0.9940, 0.9899, 0.9954, 0.9918,
          0.9936, 0.9900, 0.9927, 0.9884, 0.9941, 0.9915, 0.9948, 0.9907, 0.9923, 0.9893,
          0.9910, 0.9941, 0.9887, 0.9927, 0.9902, 0.9932, 0.9916, 0.9950, 0.9894, 0.9908,
          0.9864, 0.9933, 0.9897, 0.9922, 0.9910, 0.9944, 0.9881, 0.9927, 0.9902, 0.9940,
          0.9916, 0.9891, 0.9936, 0.9908, 0.9952, 0.9900, 0.9925, 0.9874, 0.9931, 0.9913,
          0.9940, 0.9905, 0.9871, 0.9928, 0.9896, 0.9947, 0.9911, 0.9934, 0.9888, 0.9923,
          0.9910, 0.9940, 0.9898, 0.9928, 0.9953, 0.9908, 0.9886, 0.9936, 0.9921, 0.9948,
          0.9942, 0.9918, 0.9952, 0.9906, 0.9931, 0.9962, 0.9915, 0.9899, 0.9948, 0.9938,
          0.9922, 0.9955, 0.9939, 0.9916, 0.9965, 0.9932, 0.9949, 0.9911, 0.9977, 0.9947,
          0.9953, 0.9929, 0.9972, 0.9949, 0.9929, 0.9969, 0.9992, 0.9948, 0.9981, 0.9946,
          0.9985, 0.9961, 1.0002, 0.9958, 0.9986, 1.0006, 0.9970, 1.0020, 0.9984, 1.0004,
          0.9982, 1.0012, 0.9998, 1.0029, 0.9980, 1.0007, 1.0023, 0.9994, 1.0015, 0.9997,
          1.0013, 0.9985, 1.0008, 0.9973, 1.0005, 0.9954]

trt2_t2 = [-0.1086, -0.1078, -0.1070, -0.1062, -0.1054, -0.1046, -0.1038, -0.1030, -0.1022, -0.1014,
           -0.1006, -0.0998, -0.0990, -0.0982, -0.0974, -0.0966, -0.0958, -0.0950, -0.0942, -0.0934,
           -0.0926, -0.0918, -0.0910, -0.0902, -0.0894, -0.0886, -0.0878, -0.0870, -0.0862, -0.0854,
           -0.0846, -0.0838, -0.0830, -0.0822, -0.0814, -0.0806, -0.0798, -0.0790, -0.0782, -0.0774,
           -0.0766, -0.0758, -0.0750, -0.0742, -0.0734, -0.0726, -0.0718, -0.0710, -0.0702, -0.0694,
           -0.0686, -0.0678, -0.0670, -0.0662, -0.0654, -0.0646, -0.0638, -0.0630, -0.0622, -0.0614,
           -0.0606, -0.0598, -0.0590, -0.0582, -0.0574, -0.0566, -0.0558, -0.0550, -0.0542, -0.0534,
           -0.0526, -0.0518, -0.0510, -0.0502, -0.0494, -0.0486, -0.0478, -0.0470, -0.0462, -0.0454,
           -0.0446, -0.0438, -0.0430, -0.0422, -0.0414, -0.0406, -0.0398, -0.0390, -0.0382, -0.0374,
           -0.0366, -0.0358, -0.0350, -0.0342, -0.0334, -0.0326, -0.0318, -0.0310, -0.0302, -0.0294,
           -0.0286, -0.0278, -0.0270, -0.0262, -0.0254, -0.0246, -0.0238, -0.0230, -0.0222, -0.0214,
           -0.0206, -0.0198, -0.0190, -0.0182, -0.0174, -0.0166, -0.0158, -0.0150, -0.0142, -0.0134,
           -0.0126, -0.0118, -0.0110, -0.0102, -0.0094, -0.0086, -0.0078, -0.0070, -0.0062, -0.0054,
           -0.0046, -0.0038, -0.0030, -0.0022, -0.0014, -0.0006, 0.0002, 0.0010, 0.0018, 0.0026,
           0.0034, 0.0042, 0.0050, 0.0058, 0.0066, 0.0074, 0.0082, 0.0090, 0.0098, 0.0106,
           0.0114, 0.0122, 0.0130, 0.0138, 0.0146, 0.0154, 0.0162, 0.0170, 0.0178, 0.0186,
           0.0194, 0.0202, 0.0210, 0.0218, 0.0226, 0.0234, 0.0242, 0.0250, 0.0258, 0.0266,
           0.0274, 0.0282, 0.0290, 0.0298, 0.0306, 0.0314, 0.0322, 0.0330, 0.0338, 0.0346,
           0.0354, 0.0362, 0.0370, 0.0378, 0.0386, 0.0394, 0.0402, 0.0410, 0.0418, 0.0426,
           0.0434, 0.0442, 0.0450, 0.0458, 0.0466, 0.0474, 0.0482, 0.0490, 0.0498, 0.0506,
           0.0514, 0.0522, 0.0530, 0.0538, 0.0546, 0.0554, 0.0562, 0.0570, 0.0578, 0.0586,
           0.0594, 0.0602, 0.0610, 0.0618, 0.0626, 0.0634, 0.0642, 0.0650, 0.0658, 0.0666,
           0.0674, 0.0682, 0.0690, 0.0698, 0.0706]
trt2_f2 = [1.0030, 0.9978, 1.0048, 0.9996, 0.9963, 1.0013, 1.0041, 0.9986, 1.0023, 0.9970,
           0.9988, 1.0043, 1.0000, 1.0026, 0.9968, 1.0035, 1.0010, 0.9980, 1.0052, 0.9994,
           1.0015, 0.9978, 1.0033, 0.9998, 1.0023, 0.9965, 1.0011, 1.0029, 0.9987, 1.0039,
           0.9978, 1.0014, 0.9991, 1.0028, 0.9968, 1.0006, 1.0020, 0.9985, 1.0033, 0.9996,
           1.0007, 0.9979, 1.0022, 0.9968, 1.0001, 1.0014, 0.9987, 1.0027, 0.9975, 1.0010,
           0.9985, 1.0018, 0.9971, 1.0004, 1.0027, 0.9981, 1.0001, 0.9966, 1.0015, 0.9998,
           0.9982, 1.0009, 0.9987, 1.0012, 0.9966, 0.9992, 0.9953, 0.9992, 0.9977, 0.9957,
           0.9988, 0.9958, 0.9990, 0.9944, 0.9965, 0.9977, 0.9929, 0.9963, 0.9943, 0.9974,
           0.9928, 0.9963, 0.9945, 0.9911, 0.9949, 0.9929, 0.9961, 0.9915, 0.9942, 0.9920,
           0.9947, 0.9905, 0.9935, 0.9959, 0.9920, 0.9896, 0.9942, 0.9926, 0.9951, 0.9912,
           0.9932, 0.9896, 0.9943, 0.9912, 0.9959, 0.9904, 0.9928, 0.9940, 0.9890, 0.9935,
           0.9908, 0.9946, 0.9892, 0.9932, 0.9916, 0.9940, 0.9898, 0.9954, 0.9912, 0.9926,
           0.9936, 0.9900, 0.9927, 0.9885, 0.9946, 0.9908, 0.9922, 0.9892, 0.9939, 0.9876,
           0.9929, 0.9892, 0.9938, 0.9909, 0.9950, 0.9900, 0.9923, 0.9878, 0.9932, 0.9914,
           0.9899, 0.9933, 0.9886, 0.9944, 0.9917, 0.9936, 0.9895, 0.9927, 0.9905, 0.9954,
           0.9925, 0.9890, 0.9942, 0.9909, 0.9933, 0.9882, 0.9948, 0.9914, 0.9900, 0.9938,
           0.9915, 0.9949, 0.9895, 0.9935, 0.9907, 0.9956, 0.9919, 0.9888, 0.9943, 0.9911,
           0.9942, 0.9910, 0.9958, 0.9921, 0.9903, 0.9948, 0.9933, 0.9914, 0.9964, 0.9906,
           0.9920, 0.9955, 0.9911, 0.9967, 0.9938, 0.9919, 0.9961, 0.9931, 0.9953, 0.9909,
           0.9962, 0.9926, 0.9954, 0.9982, 0.9926, 0.9967, 0.9949, 0.9986, 0.9946, 0.9974,
           0.9952, 0.9991, 0.9966, 1.0005, 0.9960, 0.9993, 1.0021, 0.9976, 1.0008, 0.9987,
           1.0019, 0.9982, 1.0009, 0.9993, 1.0027, 0.9978, 1.0007, 1.0036, 0.9992, 1.0016,
           0.9991, 1.0023, 0.9971, 1.0010, 0.9983]

# ---- transit models ----
model_t = [-0.20, -0.065, -0.0625, -0.060, -0.057, -0.054, -0.051, -0.048, -0.045, -0.042,
           -0.039, -0.036, -0.032, -0.028, -0.024, -0.018, -0.012, -0.006, 0.0,
           0.006, 0.012, 0.018, 0.024, 0.028, 0.032, 0.036, 0.039, 0.042, 0.045,
           0.048, 0.051, 0.054, 0.057, 0.060, 0.0625, 0.065, 0.25]
model_tnt = [1.0, 1.0, 0.99982, 0.99936, 0.99845, 0.99736, 0.99609, 0.99490, 0.99390, 0.99317,
             0.99272, 0.99231, 0.99199, 0.99176, 0.99158, 0.99135, 0.99113, 0.99096, 0.9909,
             0.99096, 0.99113, 0.99135, 0.99158, 0.99176, 0.99199, 0.99231, 0.99272, 0.99317, 0.99390,
             0.99490, 0.99609, 0.99736, 0.99845, 0.99936, 0.99982, 1.0, 1.0]
model_trt1 = [0.980, 0.980, 0.97984, 0.97943, 0.97861, 0.97762, 0.97647, 0.97541, 0.97451, 0.97385,
              0.97344, 0.97307, 0.97278, 0.97258, 0.97241, 0.97221, 0.97200, 0.97186, 0.9718,
              0.97186, 0.97200, 0.97221, 0.97241, 0.97258, 0.97278, 0.97307, 0.97344, 0.97385, 0.97451,
              0.97541, 0.97647, 0.97762, 0.97861, 0.97943, 0.97984, 0.980, 0.980]
model_trt2 = [1.0, 1.0, 0.99984, 0.99943, 0.99861, 0.99762, 0.99647, 0.99541, 0.99451, 0.99385,
              0.99344, 0.99307, 0.99278, 0.99258, 0.99241, 0.99221, 0.99200, 0.99186, 0.9918,
              0.99186, 0.99200, 0.99221, 0.99241, 0.99258, 0.99278, 0.99307, 0.99344, 0.99385, 0.99451,
              0.99541, 0.99647, 0.99762, 0.99861, 0.99943, 0.99984, 1.0, 1.0]

xticks = [-0.20, -0.15, -0.10, -0.05, 0.00, 0.05, 0.10, 0.15, 0.20]
yticks_top = [0.965, 0.970, 0.975, 0.980, 0.985, 0.990, 0.995, 1.000, 1.005, 1.010]
yticks_bot = [0.985, 0.990, 0.995, 1.000, 1.005, 1.010]

GREEN = '#008000'
RED = '#ff0000'
W, H = 703, 875

fig = plt.figure(figsize=(W / 100, H / 100), dpi=100)
fig.patch.set_facecolor('white')
# black strips at the left and top edge of the original image
fig.add_artist(Rectangle((0, 0), 16 / W, 1, transform=fig.transFigure, color='black', zorder=10))
fig.add_artist(Rectangle((0, 1 - 3 / H), 1, 3 / H, transform=fig.transFigure, color='black', zorder=10))

ax1 = fig.add_axes([108 / W, 1 - 502 / H, 568 / W, 459 / H])
ax2 = fig.add_axes([108 / W, 1 - 825 / H, 568 / W, 297 / H])


def style(ax, yticks, ylim):
    ax.set_xlim(-0.2, 0.2412)
    ax.set_ylim(*ylim)
    ax.set_xticks(xticks)
    ax.set_yticks(yticks)
    ax.set_yticklabels(['%.3f' % v for v in yticks])
    ax.tick_params(direction='in', top=True, right=True, length=4, width=0.8,
                   labelsize=11, pad=5, color='#333333')
    for s in ax.spines.values():
        s.set_linewidth(0.9)
        s.set_color('#333333')
    ax.set_ylabel('Normalised flux', fontsize=11.5, labelpad=6)


mk = dict(ls='none', marker='o', ms=3.1, mew=0.5)

ax1.plot(tnt_pre_t, tnt_pre_f, color=GREEN, mec='#006400', **mk)
ax1.plot(tnt_t, tnt_f, color=GREEN, mec='#006400', **mk)
ax1.plot(tnt_t2, tnt_f2, color=GREEN, mec='#006400', **mk)
ax1.plot(trt1_t, trt1_f, color=RED, mec='#c00000', **mk)
ax1.plot(trt1_t2, trt1_f2, color=RED, mec='#c00000', **mk)
ax1.plot(model_t, model_tnt, color='black', lw=1.6, zorder=5)
ax1.plot(model_t, model_trt1, color='black', lw=1.6, zorder=5)
style(ax1, yticks_top, (0.96316, 1.010))
ax1.set_xticklabels([])
ax1.set_title('20 October 2016', fontsize=12, pad=3)
ax1.text(0.1655, 1.00235, "TNT: $g'$", fontsize=9.5, va='center', ha='left')
ax1.text(0.157, 0.98275, 'TRT-GAO: $R_c$', fontsize=9.5, va='center', ha='left')

ax2.plot(trt2_t, trt2_f, color=RED, mec='#c00000', **mk)
ax2.plot(trt2_t2, trt2_f2, color=RED, mec='#c00000', **mk)
ax2.plot(model_t, model_trt2, color='black', lw=1.6, zorder=5)
style(ax2, yticks_bot, (0.983, 1.010))
ax2.set_xticklabels(['%.2f' % v for v in xticks])
ax2.set_xlabel('Days from mid transit', fontsize=11.5, labelpad=4)
ax2.set_title('27 November 2016', fontsize=12, pad=2)
ax2.text(0.157, 1.00145, 'TRT-GAO: $R_c$', fontsize=9.5, va='center', ha='left')

fig.savefig('out.png', dpi=100)
